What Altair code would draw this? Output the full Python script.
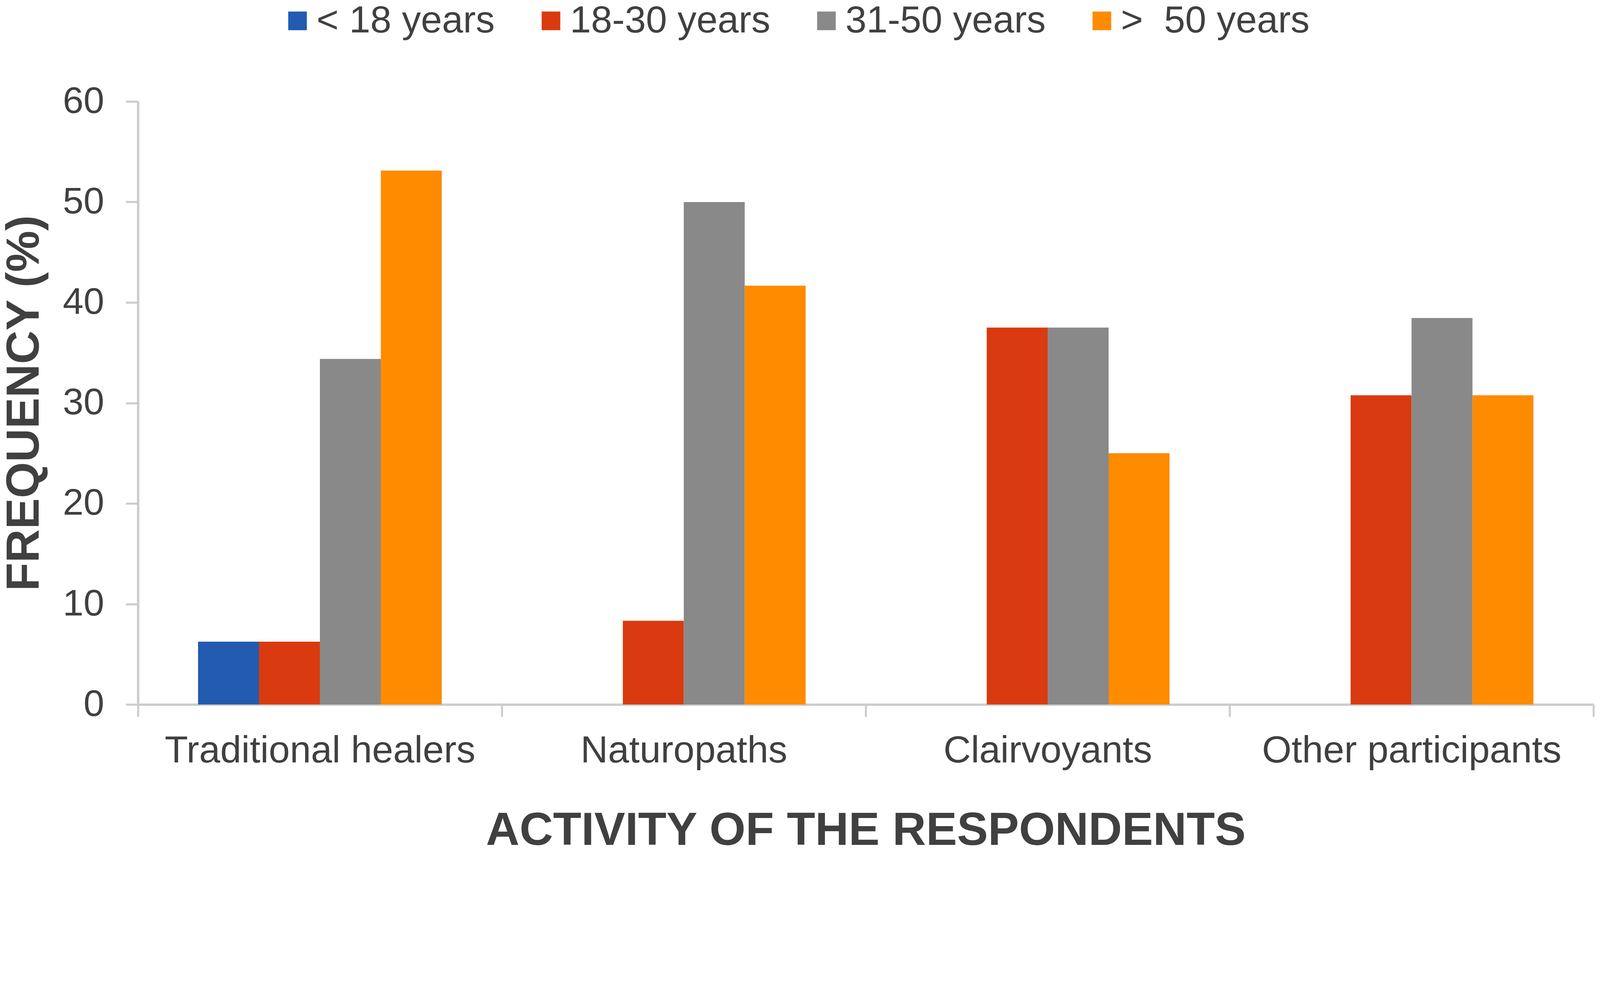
import altair as alt
import pandas as pd

categories = ["Traditional healers", "Naturopaths", "Clairvoyants", "Other participants"]
age_groups = ["< 18 years", "18-30 years", "31-50 years", ">\u00a0 50 years"]
colors = ["#225BAF", "#DA3A0F", "#898989", "#FF8B00"]
under_18 = [6.25, 0, 0, 0]
age_18_30 = [6.25, 8.33, 37.5, 30.77]
age_31_50 = [34.38, 50.0, 37.5, 38.46]
over_50 = [53.13, 41.67, 25.0, 30.77]
y_ticks = [0, 10, 20, 30, 40, 50, 60]

rows = []
for g, series in zip(age_groups, [under_18, age_18_30, age_31_50, over_50]):
    for c, v in zip(categories, series):
        rows.append({"activity": c, "age": g, "freq": v})
df = pd.DataFrame(rows)

FONT = "Liberation Sans"
TXT = "#404040"
AX = "#cccccc"
W, H = 4296, 1779

chart = alt.Chart(df).mark_bar().encode(
    x=alt.X("activity:N", sort=categories,
            scale=alt.Scale(paddingInner=0, paddingOuter=0),
            axis=alt.Axis(title="ACTIVITY OF THE RESPONDENTS", labelAngle=0,
                          tickBand="extent", tickSize=36, tickWidth=6, tickColor=AX,
                          domainColor=AX, domainWidth=7,
                          labelFont=FONT, labelFontSize=112, labelColor=TXT,
                          labelPadding=47, labelLimit=3000,
                          titleFont=FONT, titleFontSize=137, titleFontWeight="bold",
                          titleColor=TXT, titleBaseline="alphabetic",
                          titleX=W / 2, titleY=414, titleAlign="center", titleLimit=4000)),
    xOffset=alt.XOffset("age:N", sort=age_groups,
                        scale=alt.Scale(paddingInner=0, paddingOuter=0.986)),
    y=alt.Y("freq:Q", scale=alt.Scale(domain=[0, 60], nice=False),
            axis=alt.Axis(values=y_ticks, title="FREQUENCY (%)", grid=False,
                          tickSize=36, tickWidth=6, tickColor=AX,
                          domainColor=AX, domainWidth=7,
                          labelFont=FONT, labelFontSize=110, labelColor=TXT,
                          labelPadding=64,
                          titleFont=FONT, titleFontSize=137, titleFontWeight="bold",
                          titleColor=TXT, titleBaseline="alphabetic", titleAngle=270,
                          titleX=-294, titleY=H / 2, titleAlign="center", titleLimit=4000)),
    color=alt.Color("age:N", sort=age_groups,
                    scale=alt.Scale(domain=age_groups, range=colors),
                    legend=alt.Legend(orient="none", legendX=415, legendY=-294,
                                      direction="horizontal", title=None,
                                      symbolType="square", symbolSize=3025,
                                      symbolStrokeWidth=0, labelFont=FONT,
                                      labelFontSize=112, labelColor=TXT,
                                      labelOffset=0, columnPadding=109,
                                      labelLimit=2000, padding=0)),
).properties(
    width=W, height=H,
    padding={"left": 398, "top": 122, "right": 10, "bottom": 299},
    autosize=alt.AutoSizeParams(type="none"),
).configure_view(strokeWidth=0)

chart.save("out.html", embed_options={"renderer": "svg", "actions": False})
